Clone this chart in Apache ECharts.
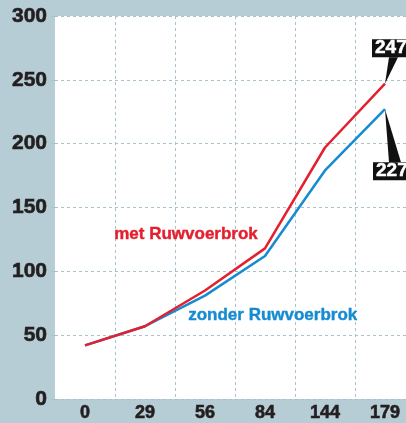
<!DOCTYPE html>
<html><head><meta charset="utf-8">
<script src="https://cdn.jsdelivr.net/npm/echarts@6/dist/echarts.min.js"></script>
<style>html,body{margin:0;padding:0;background:#b6cdd6;}#c{width:406px;height:423px;}</style>
</head><body><div id="c"></div>
<script>
var categories = ['0', '29', '56', '84', '144', '179'];
var metValues = [42, 57, 85, 118, 197, 247];
var zonderValues = [42, 57, 81, 112, 179, 227];
var yTicks = [0, 50, 100, 150, 200, 250, 300];
var seriesNames = ['met Ruwvoerbrok', 'zonder Ruwvoerbrok'];

var RED = '#e3202f', BLUE = '#168bd2', GRID = '#a8c2cd', TXT = '#231f20';
var chart = echarts.init(document.getElementById('c'));
var font = '"Liberation Sans", Arial, sans-serif';
chart.setOption({
  backgroundColor: '#b6cdd6',
  animation: false,
  grid: {left: 55, top: 16, width: 360, height: 383, outerBoundsMode: 'none', containLabel: false,
         backgroundColor: '#ffffff', show: true, borderWidth: 0},
  xAxis: {
    type: 'category', data: categories, boundaryGap: true,
    axisLine: {show: false}, axisTick: {show: false},
    axisLabel: {color: TXT, fontFamily: font, fontWeight: 'bold', fontSize: 18, margin: 5,
                textBorderColor: TXT, textBorderWidth: 0.6},
    splitLine: {show: true, interval: function (i) { return i > 0; }, lineStyle: {color: GRID, type: [3, 3], width: 1}}
  },
  yAxis: {
    type: 'value', min: yTicks[0], max: yTicks[yTicks.length - 1], interval: 50,
    axisLine: {show: false},
    axisTick: {show: true, length: 6, lineStyle: {color: GRID, type: [3, 3]}},
    axisLabel: {color: TXT, fontFamily: font, fontWeight: 'bold', fontSize: 21, margin: 8,
                textBorderColor: TXT, textBorderWidth: 0.6},
    splitLine: {show: true, lineStyle: {color: GRID, type: [3, 3], width: 1}}
  },
  series: [
    {name: seriesNames[0], type: 'line', data: metValues, symbol: 'none', z: 3,
     lineStyle: {color: RED, width: 2.5}},
    {name: seriesNames[1], type: 'line', data: zonderValues, symbol: 'none', z: 2,
     lineStyle: {color: BLUE, width: 2.5}}
  ]
});

function pt(i, v) { return chart.convertToPixel({xAxisIndex: 0, yAxisIndex: 0}, [i, v]); }
var n = categories.length - 1;
var pRed = pt(n, metValues[n]);
var pBlue = pt(n, zonderValues[n]);
var boxW = 50, boxH = 18;
var redBox = {x: pRed[0] - 13, y: pRed[1] - 44.5};
var blueBox = {x: pBlue[0] - 12, y: pBlue[1] + 53};
var numFont = 'bold 19px ' + font;
chart.setOption({
  graphic: [
    {type: 'text', left: 114, top: 226, style: {text: seriesNames[0], fill: RED, font: 'bold 17px ' + font, stroke: RED, lineWidth: 0.4}},
    {type: 'text', left: 188, top: 307, style: {text: seriesNames[1], fill: BLUE, font: 'bold 17px ' + font, stroke: BLUE, lineWidth: 0.4}},
    {type: 'polygon', shape: {points: [[pRed[0], pRed[1]], [pRed[0] + 4, redBox.y + boxH], [pRed[0] + 13, redBox.y + boxH]]}, style: {fill: '#111'}, z: 10},
    {type: 'rect', shape: {x: redBox.x, y: redBox.y, width: boxW, height: boxH}, style: {fill: '#111'}, z: 10},
    {type: 'text', x: redBox.x + 3, y: redBox.y + boxH / 2, style: {text: String(metValues[n]), fill: '#fff', font: numFont, verticalAlign: 'middle', stroke: '#fff', lineWidth: 0.5}, z: 11},
    {type: 'polygon', shape: {points: [[pBlue[0], pBlue[1]], [pBlue[0] + 4, blueBox.y], [pBlue[0] + 16, blueBox.y]]}, style: {fill: '#111'}, z: 10},
    {type: 'rect', shape: {x: blueBox.x, y: blueBox.y, width: boxW, height: boxH}, style: {fill: '#111'}, z: 10},
    {type: 'text', x: blueBox.x + 3, y: blueBox.y + boxH / 2, style: {text: String(zonderValues[n]), fill: '#fff', font: numFont, verticalAlign: 'middle', stroke: '#fff', lineWidth: 0.5}, z: 11}
  ]
});
</script></body></html>
